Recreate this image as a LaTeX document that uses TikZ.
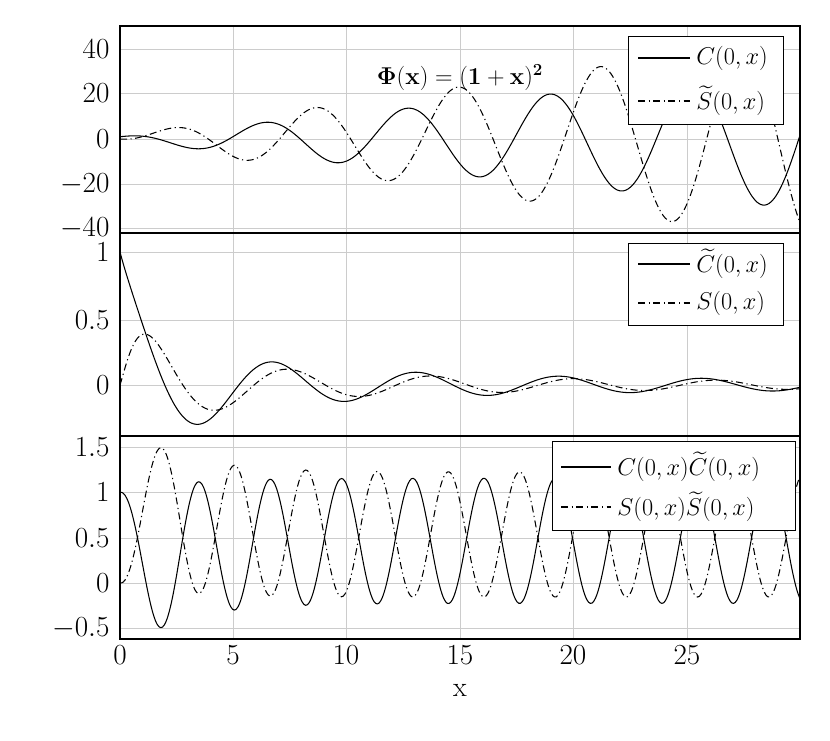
\documentclass[tikz,border=0pt]{standalone}
\usepackage{amsmath}
\begin{document}
\begin{tikzpicture}[x=0.03cm, y=-0.03cm,
    frame/.style={draw, line width=0.9pt},
    gridline/.style={draw=black!20, line width=0.6pt},
    curve/.style={line width=0.9pt, smooth},
    dashdot/.style={line width=0.9pt, smooth, dash pattern=on 6pt off 3pt on 1pt off 3pt},
    ticklabel/.style={font=\fontsize{24}{28}\selectfont, inner sep=2pt},
    legendbox/.style={draw, fill=white, line width=0.8pt, inner sep=0pt},
    legendtext/.style={font=\fontsize{20}{24}\selectfont, anchor=west, inner sep=1pt},
    declare function={
        Cf(\t)=(1+\t)*cos(deg(\t-0.1));
        St(\t)=1.45*(1+\t)*sin(deg(\t-0.75))+0.99*exp(-\t);
        Ct(\t)=(1.35-0.35*exp(-\t))*cos(deg(\t-0.55+0.55*exp(-\t/1.5)))/(1+\t);
        Sf(\t)=sin(deg(\t+0.37))/(1+\t)*(1-exp(-1.5*\t));
        Pc(\t)=0.465-0.355*exp(-\t/2.5)+(0.69+0.2*exp(-\t/2.5))*cos(deg(2*\t-0.7+0.7*exp(-\t/1.2)));
    }
]
\useasboundingbox (0,0) rectangle (830,741);

% Grid
\foreach \gx in {233,346,460,573,687}
    \draw[gridline] (\gx,26) -- (\gx,639);
\foreach \gy in {49,93,139,184,228,252,320,385,447,492,538,583,628}
    \draw[gridline] (120,\gy) -- (800,\gy);

% Curves, top panel
\begin{scope}
\clip (120,26) rectangle (800,233);
\draw[curve, samples=400, domain=0:30] plot ({120+22.667*\x}, {139-2.25*Cf(\x)});
\draw[dashdot, samples=400, domain=0:30] plot ({120+22.667*\x}, {139-2.25*St(\x)});
\end{scope}

% Curves, middle panel
\begin{scope}
\clip (120,233) rectangle (800,436);
\draw[curve, samples=400, domain=0:30] plot ({120+22.667*\x}, {385-133*Ct(\x)});
\draw[dashdot, samples=400, domain=0:30] plot ({120+22.667*\x}, {385-133*Sf(\x)});
\end{scope}

% Curves, bottom panel
\begin{scope}
\clip (120,436) rectangle (800,639);
\draw[curve, samples=400, domain=0:30] plot ({120+22.667*\x}, {583-90.7*Pc(\x)});
\draw[dashdot, samples=400, domain=0:30] plot ({120+22.667*\x}, {583-90.7*(1-Pc(\x))});
\end{scope}

% Frames
\draw[frame] (120,26) rectangle (800,233);
\draw[frame] (120,233) rectangle (800,436);
\draw[frame] (120,436) rectangle (800,639);

% Tick labels
\foreach \gy/\lab in {49/40,93/20,139/0,184/-20,228/-40,252/1,320/0.5,385/0,447/1.5,492/1,538/0.5,583/0,628/-0.5}
    \node[ticklabel, anchor=east] at (112,\gy) {$\lab$};
\foreach \gx/\lab in {120/0,233/5,346/10,460/15,573/20,687/25}
    \node[ticklabel, anchor=north] at (\gx,643) {$\lab$};
\node[ticklabel] (xlabel) at (460,690) {x};

% Title
\node[font=\fontsize{22}{26}\selectfont] (title) at (460,78) {$\mathbf{\Phi(x) = (1+x)^2}$};

% Legends
\node[legendbox, minimum width=155*0.03cm, minimum height=88*0.03cm] (leg1) at (705.5,80) {};
\node[legendtext] (leg1a) at (695,58) {$C(0,x)$};
\node[legendtext] (leg1b) at (695,101) {$\widetilde{S}(0,x)$};
\draw[curve] (638,58) -- (690,58);
\draw[dashdot] (638,101) -- (690,101);

\node[legendbox, minimum width=155*0.03cm, minimum height=82*0.03cm] (leg2) at (705.5,284) {};
\node[legendtext] (leg2a) at (695,264) {$\widetilde{C}(0,x)$};
\node[legendtext] (leg2b) at (695,303) {$S(0,x)$};
\draw[curve] (638,264) -- (690,264);
\draw[dashdot] (638,303) -- (690,303);

\node[legendbox, minimum width=243*0.03cm, minimum height=89*0.03cm] (leg3) at (673.5,485.5) {};
\node[legendtext] (leg3a) at (616,467) {$C(0,x)\widetilde{C}(0,x)$};
\node[legendtext] (leg3b) at (616,507) {$S(0,x)\widetilde{S}(0,x)$};
\draw[curve] (561,467) -- (611,467);
\draw[dashdot] (561,507) -- (611,507);
\end{tikzpicture}
\end{document}
